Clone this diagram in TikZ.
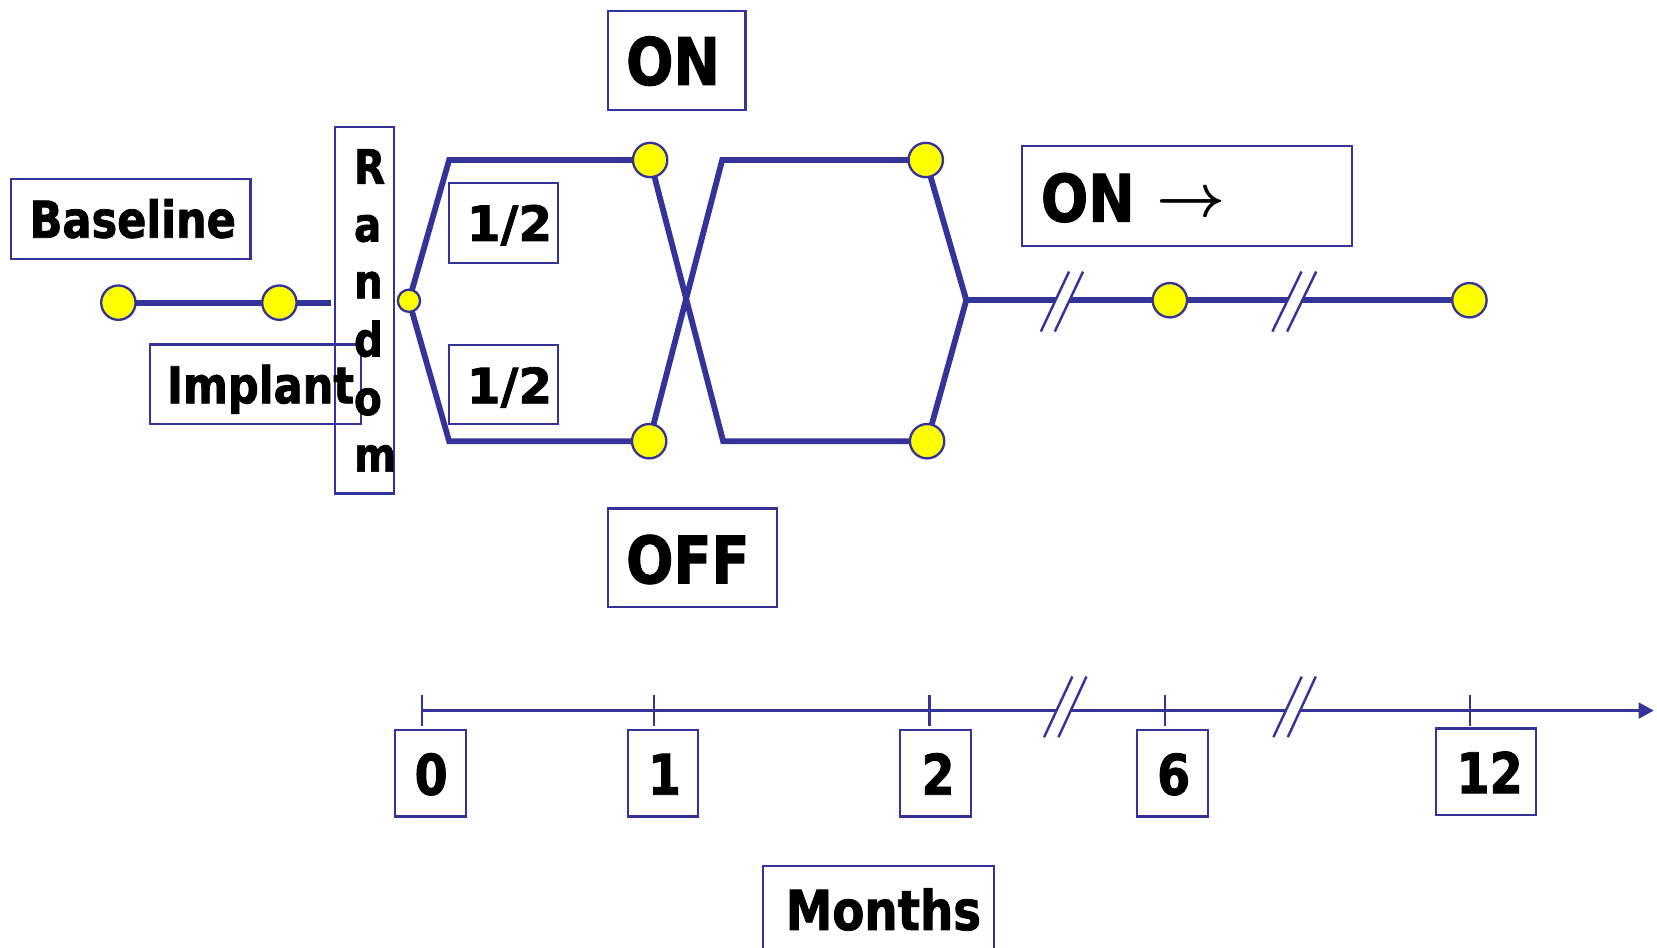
\documentclass[tikz,border=0pt]{standalone}
\usepackage{fontspec}
\usepackage{graphicx}
\usepackage{bm}
\usetikzlibrary{arrows.meta}
\newfontfamily\fw{DejaVu Sans}[FakeStretch=0.85,FakeBold=1.5]
\newfontfamily\fx{DejaVu Sans}[FakeBold=1.5]
\definecolor{dblue}{HTML}{333399}
\definecolor{dotyellow}{HTML}{FFFF00}
\begin{document}
\begin{tikzpicture}[x=1pt,y=-1pt,
  lnk/.style={draw=dblue,line width=5.5pt},
  axisline/.style={draw=dblue,line width=3pt},
  tickline/.style={draw=dblue,line width=2pt},
  slashline/.style={draw=dblue,line width=2.3pt},
  gapfill/.style={fill=white,draw=none},
  boxx/.style={draw=dblue,line width=2pt,inner sep=0pt,outer sep=0pt},
  dot/.style={circle,fill=dotyellow,draw=dblue,line width=2.2pt,minimum size=32.5pt,inner sep=0pt},
  sdot/.style={dot,minimum size=21pt},
  txt/.style={inner sep=0pt,outer sep=0pt,anchor=base west,text=black},
  ctxt/.style={inner sep=0pt,outer sep=0pt,anchor=base,text=black},
  fA/.style={font=\fw\bfseries\fontsize{48}{50}\selectfont},
  fR/.style={font=\fw\bfseries\fontsize{45}{47}\selectfont},
  fH/.style={font=\fx\bfseries\fontsize{46}{48}\selectfont},
  fD/.style={font=\fw\bfseries\fontsize{53}{55}\selectfont},
  fM/.style={font=\fw\bfseries\fontsize{52}{54}\selectfont},
  fB/.style={font=\fw\bfseries\fontsize{62}{64}\selectfont}
]
\useasboundingbox (0,0) rectangle (1568,897);

% ---------- boxes ----------
\node[boxx,minimum width=130pt,minimum height=93.8pt] (bOn) at (640.5,57) {};
\node[boxx,minimum width=160pt,minimum height=93pt] (bOff) at (655.5,527.7) {};
\node[boxx,minimum width=226.2pt,minimum height=75.3pt] (bBase) at (123.9,207.4) {};
\node[boxx,minimum width=200pt,minimum height=75pt] (bImp) at (242,363.5) {};
\node[boxx,minimum width=56pt,minimum height=347pt] (bRand) at (345,293.5) {};
\node[boxx,minimum width=103pt,minimum height=75.7pt] (bHalfA) at (476.5,210.7) {};
\node[boxx,minimum width=103pt,minimum height=74.6pt] (bHalfB) at (476.5,363.7) {};
\node[boxx,minimum width=312.2pt,minimum height=94.7pt] (bOnArr) at (1123.6,185.4) {};
\node[boxx,minimum width=67.8pt,minimum height=81.6pt] (b0) at (407.3,731.8) {};
\node[boxx,minimum width=66.9pt,minimum height=81.6pt] (b1) at (627.3,731.8) {};
\node[boxx,minimum width=67pt,minimum height=81.6pt] (b2) at (885.3,731.8) {};
\node[boxx,minimum width=67pt,minimum height=81.6pt] (b6) at (1109.5,731.8) {};
\node[boxx,minimum width=94.6pt,minimum height=81.6pt] (b12) at (1406.1,730.2) {};
\node[boxx,minimum width=218pt,minimum height=90.8pt] (bMonths) at (831.4,864.7) {};

% ---------- texts ----------
\node[txt,fB] (tOn) at (592.5,80.4) {ON};
\node[txt,fB] (tOff) at (592.5,552) {OFF};
\node[txt,fB] (tOnR) at (985,209.7) {ON};
\node[inner sep=0pt,anchor=center] (tArr) at (1127.5,193.5) {\scalebox{5.7}{$\bm{\rightarrow}$}};
\node[txt,fA] (tBase) at (28,224.9) {Baseline};
\node[txt,fA] (tImp) at (158,381.6) {Implant};
\node[txt,fH] (tHalfA) at (441.7,228) {1/2};
\node[txt,fH] (tHalfB) at (441.7,381.6) {1/2};
\node[txt,fR] (tR1) at (335,174) {R};
\node[txt,fR] (tR2) at (335,228.6) {a};
\node[txt,fR] (tR3) at (335,282.3) {n};
\node[txt,fR] (tR4) at (335,337.4) {d};
\node[txt,fR] (tR5) at (335,392.6) {o};
\node[txt,fR] (tR6) at (335,446.3) {m};
\node[ctxt,fD] (t0) at (408,752) {0};
\node[ctxt,fD] (t1) at (628.8,752) {1};
\node[ctxt,fD] (t2) at (887.6,752) {2};
\node[ctxt,fD] (t6) at (1110.6,752) {6};
\node[ctxt,fD] (t12) at (1409.6,750.5) {12};
\node[ctxt,fM] (tMonths) at (836,880) {Months};

% ---------- flow coordinates ----------
\coordinate (c1) at (112,286.4);
\coordinate (c2) at (264.4,286.4);
\coordinate (lend) at (313,286.4);
\coordinate (r0) at (387,284.6);
\coordinate (ja) at (425,151.4);
\coordinate (jb) at (425,417.5);
\coordinate (d1) at (615.2,151.4);
\coordinate (d2) at (614.3,417.5);
\coordinate (jc) at (683.4,151.4);
\coordinate (jd) at (684.3,417.5);
\coordinate (d3) at (876,151.4);
\coordinate (d4) at (877.3,417.5);
\coordinate (je) at (914.4,284.1);
\coordinate (d5) at (1107,284.1);
\coordinate (d6) at (1390.5,284.1);

\draw[lnk] (c1) -- (lend);
\draw[lnk] (r0) -- (ja) -- (d1);
\draw[lnk] (r0) -- (jb) -- (d2);
\draw[lnk] (d1) -- (jd) -- (d4);
\draw[lnk] (d2) -- (jc) -- (d3);
\draw[lnk] (d3) -- (je) -- (d4);
\draw[lnk] (je) -- (d6);

% break marks on the flow line
\coordinate (pa1) at (984.9,313.8); \coordinate (pa2) at (1011.6,257);
\coordinate (pa3) at (998.1,313.8); \coordinate (pa4) at (1024.9,257);
\coordinate (pb1) at (1204,313.8);  \coordinate (pb2) at (1231.6,257);
\coordinate (pb3) at (1218,313.8);  \coordinate (pb4) at (1245.5,257);
\fill[gapfill] (pa1) -- (pa2) -- (pa4) -- (pa3) -- cycle;
\fill[gapfill] (pb1) -- (pb2) -- (pb4) -- (pb3) -- cycle;
\draw[slashline] (pa1) -- (pa2);
\draw[slashline] (pa3) -- (pa4);
\draw[slashline] (pb1) -- (pb2);
\draw[slashline] (pb3) -- (pb4);

% dots
\node[dot] (n1) at (c1) {};
\node[dot] (n2) at (c2) {};
\node[sdot] (n0) at (r0) {};
\node[dot] (n3) at (d1) {};
\node[dot] (n4) at (d2) {};
\node[dot] (n5) at (d3) {};
\node[dot] (n6) at (d4) {};
\node[dot] (n7) at (d5) {};
\node[dot] (n8) at (d6) {};

% ---------- time axis ----------
\coordinate (ax0) at (399.5,672.4);
\coordinate (ax1) at (1565,672.4);
\draw[axisline,-{Triangle[length=14.5pt,width=14.8pt]}] (ax0) -- (ax1);
\foreach \tx/\tn in {399.5/k0,619.1/k1,879.6/k2,1102.2/k6,1391.1/k12}{
  \coordinate (\tn a) at (\tx,657.5);
  \coordinate (\tn b) at (\tx,686.8);
  \draw[tickline] (\tn a) -- (\tn b);
}
\coordinate (qa1) at (988,697.6);    \coordinate (qa2) at (1014.8,640.2);
\coordinate (qa3) at (1001.6,697.6); \coordinate (qa4) at (1028.1,640.2);
\coordinate (qb1) at (1205,697.6);   \coordinate (qb2) at (1231.8,640.2);
\coordinate (qb3) at (1218.6,697.6); \coordinate (qb4) at (1245.1,640.2);
\fill[gapfill] (qa1) -- (qa2) -- (qa4) -- (qa3) -- cycle;
\fill[gapfill] (qb1) -- (qb2) -- (qb4) -- (qb3) -- cycle;
\draw[slashline] (qa1) -- (qa2);
\draw[slashline] (qa3) -- (qa4);
\draw[slashline] (qb1) -- (qb2);
\draw[slashline] (qb3) -- (qb4);
\end{tikzpicture}
\end{document}
